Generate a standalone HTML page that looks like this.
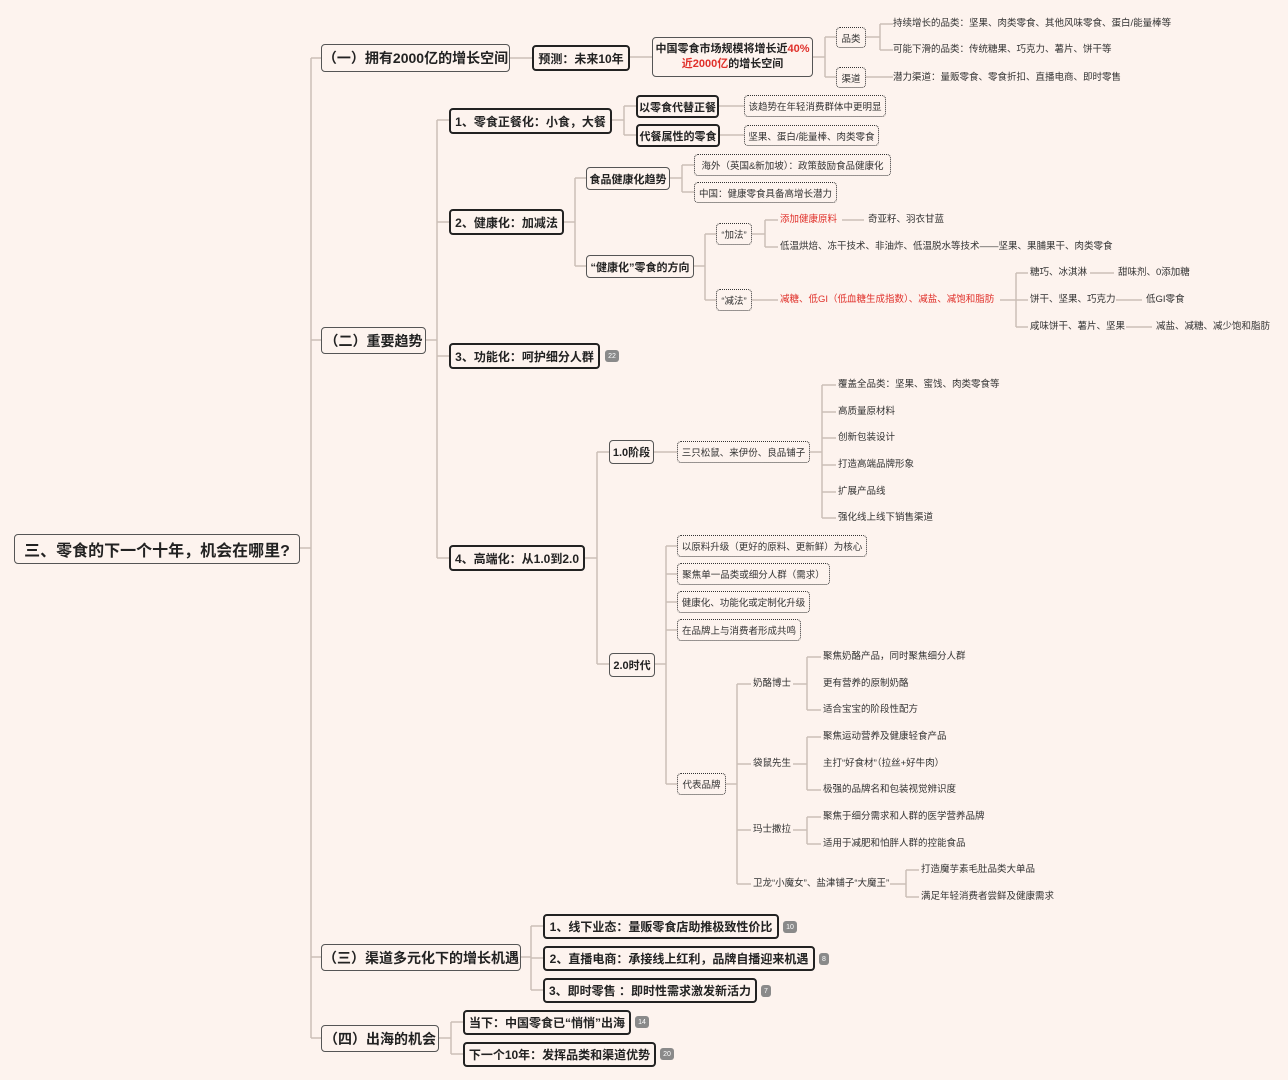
<!DOCTYPE html>
<html><head><meta charset="utf-8"><style>
body{margin:0;width:1288px;height:1080px;background:#fdf3ee;position:relative;overflow:hidden;font-family:"Liberation Sans","Noto Sans CJK SC",sans-serif;color:#222}
.b{position:absolute;display:flex;align-items:center;justify-content:center;box-sizing:border-box;white-space:nowrap;background:#fdf3ee}
.r{border:1px solid #555;border-radius:4px;font-size:16px;font-weight:bold}
.g{border:1px solid #555;border-radius:4px;font-size:14px;font-weight:bold}
.t{border:2px solid #222;border-radius:4px;font-size:12px;font-weight:bold}
.s{border:1px solid #555;border-radius:4px;font-size:11px;font-weight:bold}
.d{border:1px dotted #333;border-radius:4px;font-size:9.5px;color:#333}
.p{position:absolute;font-size:9.5px;color:#333;white-space:nowrap;line-height:12px;transform:translateY(-6px)}
.red{color:#e0302a}
.bd{position:absolute;background:#8a8a8a;color:#fff;font-size:7px;border-radius:3px;width:14px;height:12px;display:flex;align-items:center;justify-content:center}
svg{position:absolute;left:0;top:0}
</style></head><body>
<svg width="1288" height="1080" fill="none" stroke="#cbbfb7" stroke-width="1.5">
<path d="M299 548H311M311 58V1038M311 58H321M311 340H321M311 957H321M311 1038H321"/>
<path d="M510 58H532M630 57H652"/>
<path d="M813 57H825M825 37V77M825 37H836M825 77H836"/>
<path d="M866 37H880M880 24V50M880 24H893M880 50H893M866 77H893"/>
<path d="M426 340H437M437 120V558M437 120H449M437 222H449M437 356H449M437 558H449"/>
<path d="M612 120H624M624 106V135M624 106H636M624 135H636M719 106H744M720 135H744"/>
<path d="M564 222H575M575 178V266M575 178H586M575 266H586"/>
<path d="M670 178H682M682 165V192M682 165H694M682 192H694"/>
<path d="M694 266H705M705 234V300M705 234H716M705 300H716"/>
<path d="M752 234H765M765 220V247M765 220H778M765 247H778M842 220H864M752 300H778"/>
<path d="M1000 300H1016M1016 273V327M1016 273H1028M1016 300H1028M1016 327H1028M1090 273H1114M1116 300H1142M1126 327H1152"/>
<path d="M585 558H597M597 452V664M597 452H609M597 664H609M654 452H677"/>
<path d="M810 452H822M822 385V518M822 385H836M822 412H836M822 438H836M822 465H836M822 492H836M822 518H836"/>
<path d="M655 664H666M666 546V784M666 546H677M666 574H677M666 602H677M666 630H677M666 784H677"/>
<path d="M726 784H737M737 684V884M737 684H751M737 764H751M737 830H751M737 884H751"/>
<path d="M793 684H807M807 657V710M807 657H821M807 710H821M793 764H807M807 737V790M807 737H821M807 790H821M793 830H807M807 817V844M807 817H821M807 844H821"/>
<path d="M890 884H906M906 870V897M906 870H919M906 897H919"/>
<path d="M521 957H531M531 926V990M531 926H543M531 958H543M531 990H543"/>
<path d="M439 1038H451M451 1022V1054M451 1022H463M451 1054H463"/>
</svg>

<div class="b r" style="left:14px;top:534px;width:286px;height:30px">三、零食的下一个十年，机会在哪里?</div>

<div class="b g" style="left:321px;top:44px;width:189px;height:28px">（一）拥有2000亿的增长空间</div>
<div class="b t" style="left:532px;top:45px;width:98px;height:26px">预测：未来10年</div>
<div class="b s" style="left:652px;top:37px;width:161px;height:40px;flex-direction:column;line-height:15px">
<div>中国零食市场规模将增长近<span class="red">40%</span></div><div><span class="red">近2000亿</span>的增长空间</div></div>
<div class="b d" style="left:836px;top:27px;width:30px;height:21px">品类</div>
<div class="b d" style="left:836px;top:67px;width:30px;height:21px">渠道</div>
<div class="p" style="left:893px;top:24px">持续增长的品类：坚果、肉类零食、其他风味零食、蛋白/能量棒等</div>
<div class="p" style="left:893px;top:50px">可能下滑的品类：传统糖果、巧克力、薯片、饼干等</div>
<div class="p" style="left:893px;top:78px">潜力渠道：量贩零食、零食折扣、直播电商、即时零售</div>

<div class="b g" style="left:321px;top:327px;width:105px;height:27px">（二）重要趋势</div>
<div class="b t" style="left:449px;top:108px;width:163px;height:26px">1、零食正餐化：小食，大餐</div>
<div class="b t" style="left:636px;top:95px;width:83px;height:23px;font-size:11px">以零食代替正餐</div>
<div class="b t" style="left:636px;top:124px;width:84px;height:23px;font-size:11px">代餐属性的零食</div>
<div class="b d" style="left:744px;top:95px;width:142px;height:22px">该趋势在年轻消费群体中更明显</div>
<div class="b d" style="left:744px;top:125px;width:135px;height:21px">坚果、蛋白/能量棒、肉类零食</div>

<div class="b t" style="left:449px;top:209px;width:115px;height:26px">2、健康化：加减法</div>
<div class="b s" style="left:586px;top:167px;width:84px;height:23px">食品健康化趋势</div>
<div class="b d" style="left:694px;top:154px;width:197px;height:22px">海外（英国&amp;新加坡）：政策鼓励食品健康化</div>
<div class="b d" style="left:694px;top:182px;width:143px;height:21px">中国：健康零食具备高增长潜力</div>
<div class="b s" style="left:586px;top:255px;width:108px;height:23px">“健康化”零食的方向</div>
<div class="b d" style="left:716px;top:223px;width:36px;height:22px">“加法”</div>
<div class="b d" style="left:716px;top:289px;width:36px;height:22px">“减法”</div>
<div class="p red" style="left:780px;top:220px">添加健康原料</div>
<div class="p" style="left:868px;top:220px">奇亚籽、羽衣甘蓝</div>
<div class="p" style="left:780px;top:247px">低温烘焙、冻干技术、非油炸、低温脱水等技术——坚果、果脯果干、肉类零食</div>
<div class="p red" style="left:780px;top:300px">减糖、低GI（低血糖生成指数）、减盐、减饱和脂肪</div>
<div class="p" style="left:1030px;top:273px">糖巧、冰淇淋</div>
<div class="p" style="left:1118px;top:273px">甜味剂、0添加糖</div>
<div class="p" style="left:1030px;top:300px">饼干、坚果、巧克力</div>
<div class="p" style="left:1146px;top:300px">低GI零食</div>
<div class="p" style="left:1030px;top:327px">咸味饼干、薯片、坚果</div>
<div class="p" style="left:1156px;top:327px">减盐、减糖、减少饱和脂肪</div>

<div class="b t" style="left:449px;top:343px;width:151px;height:26px">3、功能化：呵护细分人群</div>
<div class="bd" style="left:605px;top:350px">22</div>

<div class="b t" style="left:449px;top:545px;width:136px;height:26px">4、高端化：从1.0到2.0</div>
<div class="b s" style="left:609px;top:440px;width:45px;height:24px">1.0阶段</div>
<div class="b d" style="left:677px;top:441px;width:133px;height:22px">三只松鼠、来伊份、良品铺子</div>
<div class="p" style="left:838px;top:385px">覆盖全品类：坚果、蜜饯、肉类零食等</div>
<div class="p" style="left:838px;top:412px">高质量原材料</div>
<div class="p" style="left:838px;top:438px">创新包装设计</div>
<div class="p" style="left:838px;top:465px">打造高端品牌形象</div>
<div class="p" style="left:838px;top:492px">扩展产品线</div>
<div class="p" style="left:838px;top:518px">强化线上线下销售渠道</div>

<div class="b s" style="left:609px;top:653px;width:46px;height:24px">2.0时代</div>
<div class="b d" style="left:677px;top:535px;width:190px;height:22px">以原料升级（更好的原料、更新鲜）为核心</div>
<div class="b d" style="left:677px;top:563px;width:153px;height:22px">聚焦单一品类或细分人群（需求）</div>
<div class="b d" style="left:677px;top:591px;width:133px;height:22px">健康化、功能化或定制化升级</div>
<div class="b d" style="left:677px;top:619px;width:124px;height:22px">在品牌上与消费者形成共鸣</div>
<div class="b d" style="left:677px;top:773px;width:49px;height:22px">代表品牌</div>
<div class="p" style="left:753px;top:684px">奶酪博士</div>
<div class="p" style="left:753px;top:764px">袋鼠先生</div>
<div class="p" style="left:753px;top:830px">玛士撒拉</div>
<div class="p" style="left:753px;top:884px">卫龙“小魔女”、盐津铺子“大魔王”</div>
<div class="p" style="left:823px;top:657px">聚焦奶酪产品，同时聚焦细分人群</div>
<div class="p" style="left:823px;top:684px">更有营养的原制奶酪</div>
<div class="p" style="left:823px;top:710px">适合宝宝的阶段性配方</div>
<div class="p" style="left:823px;top:737px">聚焦运动营养及健康轻食产品</div>
<div class="p" style="left:823px;top:764px">主打“好食材”（拉丝+好牛肉）</div>
<div class="p" style="left:823px;top:790px">极强的品牌名和包装视觉辨识度</div>
<div class="p" style="left:823px;top:817px">聚焦于细分需求和人群的医学营养品牌</div>
<div class="p" style="left:823px;top:844px">适用于减肥和怕胖人群的控能食品</div>
<div class="p" style="left:921px;top:870px">打造魔芋素毛肚品类大单品</div>
<div class="p" style="left:921px;top:897px">满足年轻消费者尝鲜及健康需求</div>

<div class="b g" style="left:321px;top:944px;width:200px;height:27px">（三）渠道多元化下的增长机遇</div>
<div class="b t" style="left:543px;top:914px;width:236px;height:25px">1、线下业态：量贩零食店助推极致性价比</div>
<div class="bd" style="left:783px;top:921px">10</div>
<div class="b t" style="left:543px;top:946px;width:272px;height:25px">2、直播电商：承接线上红利，品牌自播迎来机遇</div>
<div class="bd" style="left:819px;top:953px;width:10px">8</div>
<div class="b t" style="left:543px;top:978px;width:214px;height:25px">3、即时零售 ：即时性需求激发新活力</div>
<div class="bd" style="left:761px;top:985px;width:10px">7</div>

<div class="b g" style="left:321px;top:1025px;width:118px;height:27px">（四）出海的机会</div>
<div class="b t" style="left:463px;top:1010px;width:168px;height:25px">当下：中国零食已“悄悄”出海</div>
<div class="bd" style="left:635px;top:1016px">14</div>
<div class="b t" style="left:463px;top:1042px;width:193px;height:25px">下一个10年：发挥品类和渠道优势</div>
<div class="bd" style="left:660px;top:1048px">20</div>
</body></html>
